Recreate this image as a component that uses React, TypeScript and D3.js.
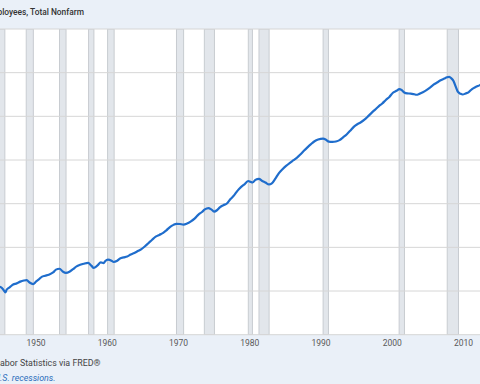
import React from "react";
import * as d3 from "d3";

const titleText = "All Employees, Total Nonfarm";
const sourceText = "Source: U.S. Bureau of Labor Statistics via FRED®";
const noteText = "Shaded areas indicate U.S. recessions.";

const years = [
  1944.5, 1945.0, 1945.4, 1945.7, 1945.9, 1946.1, 1946.5, 1947.0, 1947.5, 1948.0, 1948.5, 1948.9,
  1949.3, 1949.8, 1950.2, 1950.6, 1951.0, 1951.5, 1952.0, 1952.6, 1953.0, 1953.5, 1954.0, 1954.4,
  1954.9, 1955.4, 1955.9, 1956.4, 1956.9, 1957.5, 1958.0, 1958.3, 1958.8, 1959.3, 1959.7, 1959.9,
  1960.3, 1960.8, 1961.1, 1961.6, 1962.0, 1962.5, 1963.0, 1963.5, 1964.0, 1964.5, 1965.0, 1965.5,
  1966.0, 1966.5, 1967.0, 1967.5, 1968.0, 1968.5, 1969.0, 1969.5, 1969.9, 1970.4, 1970.9, 1971.4,
  1971.9, 1972.5, 1973.0, 1973.5, 1973.9, 1974.4, 1974.8, 1975.2, 1975.6, 1976.0, 1976.5, 1977.0,
  1977.5, 1978.0, 1978.5, 1979.0, 1979.5, 1980.0, 1980.3, 1980.6, 1981.0, 1981.5, 1981.9, 1982.4,
  1982.9, 1983.3, 1983.8, 1984.3, 1984.8, 1985.3, 1985.8, 1986.3, 1986.8, 1987.3, 1987.8, 1988.3,
  1988.8, 1989.3, 1989.8, 1990.5, 1990.9, 1991.3, 1991.8, 1992.3, 1992.8, 1993.3, 1993.8, 1994.3,
  1994.8, 1995.3, 1995.8, 1996.3, 1996.8, 1997.3, 1997.8, 1998.3, 1998.8, 1999.3, 1999.8, 2000.3,
  2000.8, 2001.2, 2001.5, 2001.9, 2002.3, 2002.8, 2003.3, 2003.6, 2004.0, 2004.5, 2005.0, 2005.5,
  2006.0, 2006.5, 2007.0, 2007.5, 2007.9, 2008.2, 2008.5, 2008.8, 2009.1, 2009.4, 2009.8, 2010.1,
  2010.5, 2010.9, 2011.4, 2011.9, 2012.5, 2012.8,
];

const employees = [
  42100, 42000, 41500, 40200, 39400, 40700, 41700, 43000, 43500, 44300, 44800, 45000,
  43900, 43200, 44300, 45300, 46500, 47000, 47500, 48500, 49800, 50200, 48800, 48300,
  48800, 50000, 51300, 52000, 52500, 52900, 51500, 50600, 51600, 53100, 52800, 53600,
  54400, 53900, 53300, 53900, 54900, 55400, 55800, 56700, 57400, 58300, 59200, 60500,
  62000, 63500, 64900, 65700, 66500, 67800, 69300, 70300, 70800, 70700, 70400, 70900,
  71800, 73300, 75000, 76200, 77400, 78000, 77400, 76400, 77000, 78300, 79300, 80100,
  82100, 83800, 86000, 87700, 89000, 90400, 90000, 89700, 90900, 91400, 90500, 89700,
  88800, 89300, 91500, 94000, 95800, 97300, 98600, 99800, 101000, 102500, 104200, 105800,
  107300, 108600, 109400, 109800, 109300, 108400, 108300, 108500, 109100, 110400, 111700, 113400,
  115200, 116400, 117300, 118500, 120000, 121600, 123100, 124600, 125900, 127500, 128900, 130800,
  131700, 132500, 132100, 130900, 130500, 130400, 130100, 129900, 130300, 131000, 132000, 133200,
  134500, 135500, 136500, 137300, 137900, 138100, 137400, 136200, 133700, 131300, 130300, 130000,
  130500, 131000, 132500, 133400, 134300, 134800,
];

const recessionStarts = [1945.08, 1948.83, 1953.5, 1957.58, 1960.25, 1969.92, 1973.83, 1980.0, 1981.5, 1990.5, 2001.17, 2007.92];
const recessionEnds = [1945.83, 1949.83, 1954.42, 1958.33, 1961.17, 1970.92, 1975.25, 1980.58, 1982.92, 1991.25, 2001.92, 2009.5];

const xTickYears = [1950, 1960, 1970, 1980, 1990, 2000, 2010];
const yGridValues = [20000, 40000, 60000, 80000, 100000, 120000, 140000, 160000];

const W = 480;
const H = 384;
const plotTop = 29;
const plotBottom = 334.7;
const FONT = "Roboto, 'Noto Sans', Arial, sans-serif";

export default function App() {
  const x = d3.scaleLinear().domain([1945.15, 2012.52]).range([0, W]);
  const y = d3.scaleLinear().domain([20000, 160000]).range([plotBottom, plotTop]);

  const data = years.map((yr, i) => ({ t: yr, v: employees[i] }));
  const line = d3
    .line<{ t: number; v: number }>()
    .x((d) => x(d.t))
    .y((d) => y(d.v))
    .curve(d3.curveMonotoneX);

  return (
    <svg
      width={W}
      height={H}
      style={{ position: "fixed", left: 0, top: 0, display: "block" }}
      fontFamily={FONT}
    >
      <rect x={0} y={0} width={W} height={H} fill="#eaf0f8" />
      <rect x={0} y={plotTop} width={W} height={plotBottom - plotTop} fill="#ffffff" />
      <defs>
        <clipPath id="plotClip">
          <rect x={0} y={plotTop} width={W} height={plotBottom - plotTop} />
        </clipPath>
      </defs>
      <g clipPath="url(#plotClip)">
        {recessionStarts.map((s, i) => (
          <rect
            key={i}
            x={x(s)}
            y={plotTop}
            width={x(recessionEnds[i]) - x(s)}
            height={plotBottom - plotTop}
            fill="#e2e6eb"
            stroke="#c8ccd1"
            strokeWidth={1}
          />
        ))}
      </g>
      {yGridValues.map((v) => (
        <line key={v} x1={0} x2={W} y1={y(v)} y2={y(v)} stroke="#d6d6d6" strokeWidth={1} />
      ))}
      <g clipPath="url(#plotClip)">
        <path d={line(data) || ""} fill="none" stroke="#1f6dcc" strokeWidth={2.2} strokeLinejoin="round" />
      </g>
      {xTickYears.map((yr) => (
        <text key={yr} x={x(yr) + 1.5} y={346} textAnchor="middle" fontSize={8.5} fill="#595959">
          {yr}
        </text>
      ))}
      <text x={84} y={15} textAnchor="end" fontSize={8.4} fontWeight={500} fill="#333333">
        {titleText}
      </text>
      <text x={100.5} y={365.5} textAnchor="end" fontSize={8.85} fill="#444444">
        {sourceText}
      </text>
      <text x={55.5} y={380.5} textAnchor="end" fontSize={8.85} fontStyle="italic" fill="#2a6ebb">
        {noteText}
      </text>
    </svg>
  );
}
